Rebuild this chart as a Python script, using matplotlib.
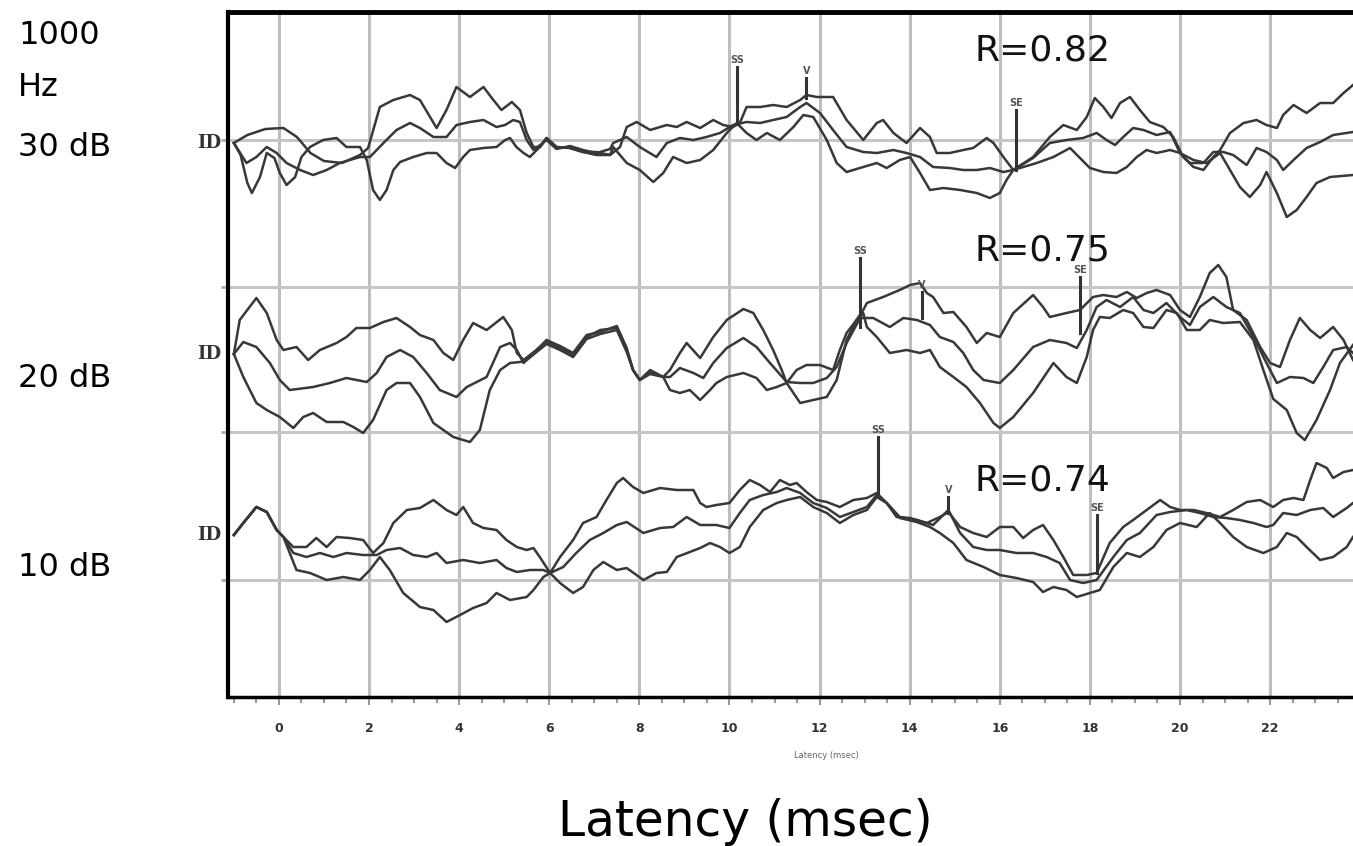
import numpy as np
import matplotlib
matplotlib.use("Agg")
import matplotlib.pyplot as plt
from matplotlib.ticker import MultipleLocator

# ABR traces, 3 repeats per level: (latency ms, amplitude offset from level baseline)
db30_a = [(-1, 0), (-0.7, 8), (-0.3, 14), (0.1, 15), (0.4, 6), (0.7, -10), (1.0, -18), (1.4, -20), (1.8, -12),
          (1.98, -5), (2.24, 36), (2.54, 43), (2.91, 48), (3.13, 43), (3.5, 15), (3.72, 33), (3.94, 56), (4.24, 46),
          (4.54, 56), (4.76, 43), (4.94, 33), (5.17, 41), (5.35, 33), (5.5, 10), (5.65, -4), (5.8, -4), (5.94, 5),
          (6.16, -4), (6.46, -5), (6.75, -9), (7.05, -9), (7.35, -12), (7.57, -4), (7.72, 16), (7.94, 21), (8.24, 13),
          (8.61, 18), (8.83, 16), (9.05, 21), (9.35, 15), (9.64, 23), (9.86, 18), (10.08, 16), (10.23, 20),
          (10.38, 36), (10.68, 36), (10.97, 38), (11.27, 36), (11.57, 43), (11.71, 48), (11.94, 46), (12.3, 46),
          (12.6, 23), (12.97, 3), (13.27, 20), (13.41, 23), (13.64, 10), (13.93, 0), (14.23, 15), (14.45, 6),
          (14.6, -10), (14.89, -10), (15.19, -7), (15.41, -5), (15.71, 5), (15.86, 0), (16.08, -14), (16.3, -27),
          (16.74, -14), (17.11, 6), (17.41, 18), (17.71, 13), (17.93, 26), (18.11, 45), (18.3, 36), (18.48, 25),
          (18.67, 40), (18.89, 46), (19.11, 33), (19.33, 21), (19.63, 16), (19.85, 6), (20.07, -14), (20.3, -24),
          (20.52, -27), (20.74, -14), (20.89, -7), (21.11, 10), (21.41, 20), (21.7, 23), (21.92, 18), (22.15, 15),
          (22.29, 28), (22.52, 38), (22.81, 30), (23.11, 40), (23.4, 40), (23.63, 50), (23.84, 58)]
db30_b = [(-1, 0), (-0.72, -20), (-0.5, -14), (-0.27, -4), (-0.05, -10), (0.17, -20), (0.47, -27), (0.76, -32),
          (1.06, -27), (1.35, -20), (1.8, -14), (2.02, -14), (2.32, 0), (2.61, 13), (2.91, 20), (3.13, 15),
          (3.43, 6), (3.72, 6), (3.94, 18), (4.24, 21), (4.54, 23), (4.83, 16), (5.02, 18), (5.2, 23), (5.35, 21),
          (5.5, 3), (5.65, -7), (5.8, -2), (5.94, 3), (6.16, -6), (6.46, -3), (6.75, -7), (7.05, -10), (7.35, -6),
          (7.42, 0), (7.72, 6), (8.01, -4), (8.38, -14), (8.61, 0), (8.9, 5), (9.2, 3), (9.49, 6), (9.79, 10),
          (10.08, 18), (10.38, 21), (10.68, 20), (10.97, 23), (11.27, 26), (11.57, 36), (11.71, 40), (12.01, 30),
          (12.3, 13), (12.6, -4), (12.97, -9), (13.27, -10), (13.64, -7), (13.93, -10), (14.23, -14), (14.52, -24),
          (14.89, -25), (15.19, -27), (15.49, -27), (15.78, -25), (16.08, -29), (16.3, -27), (16.74, -15),
          (17.11, 0), (17.48, 3), (17.85, 5), (18.15, 10), (18.37, 3), (18.56, -2), (18.74, 6), (18.96, 15),
          (19.19, 13), (19.48, 8), (19.78, 11), (20.0, -10), (20.22, -20), (20.52, -20), (20.74, -9), (20.96, -9),
          (21.18, -12), (21.48, -22), (21.7, -5), (21.92, -9), (22.15, -17), (22.29, -27), (22.52, -17),
          (22.81, -5), (23.11, 1), (23.4, 8), (23.84, 11)]
db30_c = [(-1, 0), (-0.85, -12), (-0.7, -40), (-0.6, -50), (-0.42, -34), (-0.27, -10), (-0.1, -15), (0.02, -30),
          (0.17, -42), (0.36, -34), (0.5, -14), (0.69, -4), (0.98, 3), (1.28, 5), (1.5, -4), (1.8, -4), (1.95, -17),
          (2.09, -47), (2.24, -57), (2.39, -47), (2.54, -27), (2.69, -19), (2.98, -14), (3.28, -10), (3.5, -10),
          (3.72, -20), (3.91, -25), (4.09, -14), (4.24, -7), (4.54, -5), (4.83, -4), (5.02, 3), (5.13, 5),
          (5.27, -4), (5.43, -10), (5.57, -14), (5.79, -4), (5.94, 5), (6.16, -4), (6.46, -5), (6.75, -9),
          (7.05, -12), (7.35, -12), (7.42, -4), (7.72, -20), (8.01, -27), (8.31, -39), (8.53, -30), (8.75, -14),
          (9.05, -20), (9.35, -17), (9.64, -7), (9.94, 10), (10.16, 20), (10.38, 10), (10.6, 3), (10.83, 10),
          (11.12, 3), (11.42, 16), (11.64, 28), (11.86, 26), (12.16, 3), (12.38, -20), (12.6, -29), (12.97, -24),
          (13.27, -20), (13.49, -25), (13.78, -17), (14.01, -14), (14.23, -30), (14.45, -47), (14.75, -45),
          (15.12, -47), (15.49, -50), (15.78, -55), (16.0, -50), (16.15, -37), (16.3, -27), (16.82, -20),
          (17.19, -14), (17.56, -5), (17.78, -15), (18.0, -25), (18.3, -29), (18.59, -30), (18.82, -24),
          (19.04, -14), (19.26, -7), (19.48, -10), (19.78, -7), (20.0, -10), (20.3, -17), (20.59, -20),
          (20.89, -10), (21.11, -27), (21.33, -44), (21.55, -54), (21.78, -42), (21.92, -29), (22.15, -50),
          (22.37, -74), (22.59, -67), (22.81, -54), (23.03, -40), (23.33, -34), (23.84, -32)]

db20_a = [(-1, 0), (-0.87, 34), (-0.5, 56), (-0.27, 41), (-0.05, 14), (0.1, 4), (0.39, 7), (0.65, -6), (0.91, 4),
          (1.28, 11), (1.5, 17), (1.72, 26), (2.02, 26), (2.32, 32), (2.61, 36), (2.91, 27), (3.13, 19), (3.43, 14),
          (3.65, 1), (3.87, -6), (4.09, 14), (4.31, 31), (4.61, 24), (4.98, 37), (5.17, 24), (5.28, 1), (5.43, -6),
          (5.94, 12), (6.24, 6), (6.53, -1), (6.83, 17), (7.13, 24), (7.5, 26), (7.72, 4), (7.86, -16), (8.01, -26),
          (8.24, -16), (8.53, -23), (8.68, -16), (8.9, 1), (9.05, 11), (9.35, -4), (9.64, 17), (9.94, 34),
          (10.31, 45), (10.53, 41), (10.75, 24), (10.97, 4), (11.16, -16), (11.27, -29), (11.49, -16), (11.71, -11),
          (12.01, -11), (12.3, -16), (12.45, 4), (12.6, 21), (12.82, 34), (12.97, 44), (13.05, 51), (13.41, 57),
          (13.78, 64), (14.01, 69), (14.23, 71), (14.38, 61), (14.52, 57), (14.75, 41), (14.97, 42), (15.26, 27),
          (15.49, 11), (15.71, 21), (16.0, 17), (16.3, 41), (16.74, 59), (16.96, 47), (17.11, 37), (17.48, 41),
          (17.78, 44), (18.07, 57), (18.3, 59), (18.59, 57), (18.82, 62), (19.04, 56), (19.26, 61), (19.48, 64),
          (19.78, 59), (20.0, 44), (20.22, 37), (20.44, 57), (20.66, 81), (20.85, 89), (21.03, 77), (21.18, 44),
          (21.48, 34), (21.78, 7), (22.0, -9), (22.22, -13), (22.44, 14), (22.66, 36), (22.89, 24), (23.11, 16),
          (23.4, 27), (23.63, 14), (23.84, -6)]
db20_b = [(-1, 0), (-0.79, 12), (-0.5, 7), (-0.2, -9), (0.02, -26), (0.24, -36), (0.76, -33), (1.13, -29),
          (1.5, -24), (1.95, -28), (2.17, -19), (2.39, -3), (2.69, 4), (2.98, -3), (3.28, -19), (3.57, -36),
          (3.94, -43), (4.17, -33), (4.61, -23), (4.91, 7), (5.13, 11), (5.28, 4), (5.43, -9), (5.5, -6), (5.94, 10),
          (6.24, 4), (6.53, -3), (6.83, 15), (7.13, 20), (7.5, 24), (7.72, 2), (7.86, -16), (8.01, -26), (8.24, -18),
          (8.53, -23), (8.68, -23), (8.9, -14), (9.2, -19), (9.42, -24), (9.64, -9), (9.94, 6), (10.31, 16),
          (10.6, 7), (10.9, -9), (11.27, -28), (11.57, -29), (11.86, -29), (12.16, -24), (12.38, -13), (12.6, 11),
          (12.9, 36), (13.19, 36), (13.56, 27), (13.86, 36), (14.16, 34), (14.45, 29), (14.67, 17), (14.97, 12),
          (15.19, 1), (15.41, -16), (15.64, -26), (16.0, -29), (16.3, -16), (16.74, 7), (17.11, 14), (17.48, 11),
          (17.71, 6), (17.93, 24), (18.15, 47), (18.37, 54), (18.67, 47), (18.96, 57), (19.19, 44), (19.41, 41),
          (19.7, 51), (20.0, 37), (20.22, 29), (20.44, 47), (20.74, 57), (21.03, 47), (21.33, 41), (21.63, 17),
          (21.92, -9), (22.15, -29), (22.44, -23), (22.74, -24), (22.96, -29), (23.18, -13), (23.4, 4), (23.7, 7),
          (23.84, 1)]
db20_c = [(-1, 0), (-0.79, -23), (-0.5, -49), (-0.27, -56), (0.02, -63), (0.32, -74), (0.54, -63), (0.76, -59),
          (1.06, -68), (1.43, -68), (1.65, -73), (1.87, -79), (2.09, -66), (2.39, -36), (2.61, -29), (2.91, -29),
          (3.13, -43), (3.43, -69), (3.87, -83), (4.24, -88), (4.46, -76), (4.68, -36), (4.91, -16), (5.13, -9),
          (5.35, -8), (5.5, -6), (5.94, 14), (6.24, 8), (6.53, 1), (6.83, 19), (7.13, 22), (7.5, 28), (7.72, 6),
          (7.86, -16), (8.01, -26), (8.24, -20), (8.53, -23), (8.68, -36), (8.9, -39), (9.12, -36), (9.35, -46),
          (9.57, -36), (9.71, -29), (9.94, -23), (10.31, -19), (10.6, -24), (10.83, -36), (11.05, -33),
          (11.27, -29), (11.57, -49), (11.86, -46), (12.16, -43), (12.38, -26), (12.6, 14), (12.82, 34),
          (12.97, 41), (13.05, 27), (13.27, 17), (13.56, 1), (13.93, 4), (14.23, 1), (14.45, 4), (14.67, -13),
          (14.97, -23), (15.26, -33), (15.56, -49), (15.86, -69), (16.0, -74), (16.3, -63), (16.74, -39),
          (17.19, -9), (17.48, -23), (17.71, -29), (17.93, -3), (18.07, 24), (18.22, 37), (18.44, 36), (18.74, 44),
          (18.96, 41), (19.19, 27), (19.41, 26), (19.7, 44), (19.93, 41), (20.15, 24), (20.44, 24), (20.66, 34),
          (20.96, 31), (21.33, 32), (21.63, 14), (21.85, -16), (22.07, -45), (22.37, -56), (22.59, -79),
          (22.77, -86), (23.03, -66), (23.33, -36), (23.55, -9), (23.84, 9)]

db10_a = [(-1, 0), (-0.79, 12), (-0.5, 28), (-0.27, 23), (-0.05, 5), (0.1, -2), (0.32, -12), (0.61, -12),
          (0.83, -3), (1.06, -12), (1.28, -2), (1.57, -3), (1.87, -5), (2.09, -18), (2.32, -8), (2.54, 12),
          (2.84, 25), (3.13, 27), (3.43, 35), (3.72, 25), (3.94, 20), (4.09, 28), (4.31, 12), (4.54, 7), (4.83, 5),
          (5.05, -5), (5.28, -12), (5.5, -15), (5.65, -13), (5.79, -22), (6.02, -38), (6.24, -22), (6.53, -5),
          (6.75, 12), (7.05, 18), (7.27, 35), (7.5, 52), (7.64, 57), (7.86, 48), (8.09, 42), (8.46, 47), (8.83, 45),
          (9.2, 45), (9.35, 32), (9.49, 28), (9.71, 30), (10.0, 32), (10.23, 45), (10.45, 55), (10.68, 50),
          (10.9, 43), (11.12, 55), (11.34, 50), (11.49, 52), (11.71, 43), (11.94, 35), (12.16, 33), (12.45, 28),
          (12.75, 35), (13.05, 37), (13.27, 42), (13.49, 32), (13.71, 18), (14.01, 17), (14.38, 12), (14.67, 18),
          (14.86, 23), (15.12, 8), (15.41, 2), (15.71, -2), (16.0, 8), (16.3, 8), (16.52, -3), (16.74, 5),
          (16.96, 10), (17.19, -5), (17.41, -22), (17.63, -40), (17.93, -40), (18.15, -38), (18.44, -8), (18.74, 8),
          (18.96, 15), (19.26, 25), (19.56, 35), (19.78, 28), (20.0, 25), (20.3, 25), (20.59, 22), (20.89, 18),
          (21.18, 25), (21.48, 33), (21.78, 35), (22.07, 28), (22.29, 35), (22.52, 37), (22.74, 35), (22.89, 55),
          (23.03, 72), (23.26, 67), (23.4, 57), (23.63, 63), (23.84, 65)]
db10_b = [(-1, 0), (-0.79, 12), (-0.5, 28), (-0.27, 23), (-0.05, 5), (0.1, -2), (0.32, -18), (0.61, -22),
          (0.91, -18), (1.21, -22), (1.5, -18), (1.87, -20), (2.17, -20), (2.39, -15), (2.69, -13), (2.98, -20),
          (3.28, -22), (3.5, -18), (3.72, -28), (4.09, -25), (4.46, -28), (4.83, -25), (5.05, -33), (5.28, -37),
          (5.57, -35), (5.87, -35), (6.02, -38), (6.31, -32), (6.6, -18), (6.9, -5), (7.2, 2), (7.5, 10),
          (7.72, 13), (8.09, 2), (8.46, 7), (8.75, 8), (9.05, 18), (9.35, 10), (9.71, 10), (10.0, 7), (10.23, 22),
          (10.45, 35), (10.75, 40), (11.05, 43), (11.27, 47), (11.57, 42), (11.86, 32), (12.16, 27), (12.45, 18),
          (12.75, 23), (13.05, 28), (13.27, 40), (13.49, 32), (13.78, 18), (14.16, 15), (14.52, 10), (14.86, 25),
          (15.12, 2), (15.41, -12), (15.71, -15), (16.0, -15), (16.37, -18), (16.74, -18), (17.04, -22),
          (17.33, -28), (17.56, -45), (17.85, -48), (18.15, -45), (18.52, -22), (18.82, -5), (19.11, 2),
          (19.48, 20), (19.78, 23), (20.15, 25), (20.44, 22), (20.74, 18), (21.03, 17), (21.33, 15), (21.63, 12),
          (21.92, 8), (22.07, 10), (22.29, 22), (22.59, 20), (22.89, 25), (23.18, 27), (23.4, 18), (23.7, 27),
          (23.84, 32)]
db10_c = [(-1, 0), (-0.79, 12), (-0.5, 28), (-0.27, 23), (-0.05, 5), (0.1, -2), (0.24, -18), (0.39, -35),
          (0.69, -38), (1.06, -45), (1.43, -42), (1.8, -45), (2.02, -35), (2.24, -22), (2.46, -35), (2.76, -58),
          (3.13, -72), (3.43, -75), (3.72, -87), (4.02, -80), (4.31, -73), (4.61, -68), (4.83, -58), (5.13, -65),
          (5.5, -62), (5.65, -55), (5.87, -42), (6.02, -38), (6.24, -48), (6.53, -58), (6.75, -52), (6.98, -35),
          (7.2, -27), (7.5, -35), (7.72, -33), (8.09, -45), (8.38, -38), (8.61, -37), (8.83, -22), (9.12, -17),
          (9.35, -13), (9.57, -8), (9.79, -12), (10.0, -18), (10.23, -12), (10.45, 8), (10.75, 25), (11.05, 32),
          (11.27, 35), (11.57, 38), (11.86, 28), (12.16, 22), (12.45, 12), (12.75, 20), (13.05, 25), (13.27, 38),
          (13.49, 32), (13.78, 17), (14.16, 13), (14.45, 8), (14.67, 2), (14.97, -8), (15.26, -25), (15.64, -32),
          (16.0, -40), (16.37, -43), (16.74, -47), (16.96, -57), (17.19, -52), (17.48, -55), (17.71, -62),
          (18.0, -58), (18.22, -55), (18.52, -32), (18.82, -18), (19.11, -22), (19.41, -12), (19.7, 5), (20.0, 12),
          (20.37, 8), (20.66, 22), (20.89, 12), (21.18, -2), (21.48, -12), (21.85, -18), (22.15, -12), (22.37, 2),
          (22.59, -2), (22.81, -12), (23.11, -25), (23.4, -22), (23.7, -12), (23.84, -2)]

levels = ["30 dB", "20 dB", "10 dB"]
r_values = ["R=0.82", "R=0.75", "R=0.74"]
traces = [[db30_a, db30_b, db30_c], [db20_a, db20_b, db20_c], [db10_a, db10_b, db10_c]]

# wave markers per level: (label, latency, tip offset, top offset)
markers = [
    [("SS", 10.17, 20, 76), ("V", 11.71, 45, 65), ("SE", 16.37, -27, 33)],
    [("SS", 12.9, 27, 96), ("V", 14.27, 36, 62), ("SE", 17.78, 21, 77)],
    [("SS", 13.3, 40, 98), ("V", 14.86, 22, 38), ("SE", 18.15, -38, 20)],
]

baselines = [554, 343, 162]
grid_y = [117, 265, 410, 557]
trace_color = "#383838"

fig = plt.figure(figsize=(13.53, 8.46), dpi=100)
ax = fig.add_axes([228 / 1353, 149 / 846, 1 - 228 / 1353, 685 / 846])

for base, group in zip(baselines, traces):
    for tr in group:
        t, v = np.array(tr).T
        ax.plot(t, v + base, color=trace_color, lw=1.8, solid_joinstyle="round")

for base, group in zip(baselines, markers):
    for lab, t, lo, hi in group:
        ax.plot([t, t], [base + lo, base + hi], color="#333333", lw=2.2)
        ax.text(t, base + hi + 2, lab, ha="center", va="bottom", fontsize=7,
                fontweight="bold", color="#555555")

r_y = [647, 447, 217]
for txt, y in zip(r_values, r_y):
    ax.text(15.45, y, txt, fontsize=26, va="center", ha="left", color="#111111")

ax.set_xlim(-1.13, 23.84)
ax.set_ylim(0, 685)
ax.set_xticks(range(0, 23, 2))
ax.xaxis.set_minor_locator(MultipleLocator(0.5))
ax.set_yticks(grid_y)
ax.set_yticklabels([])
ax.grid(axis="x", color="#bdbdbd", lw=2.2)
ax.grid(axis="y", color="#c6c6c6", lw=2.2)
ax.set_axisbelow(True)

ax.tick_params(axis="x", which="major", direction="out", length=6, width=1.5, color="#999999",
               labelsize=9, labelcolor="#333333", pad=12)
ax.tick_params(axis="x", which="minor", direction="out", length=4, width=1.5, color="#999999")
ax.tick_params(axis="y", direction="out", length=5, width=2, color="#aaaaaa")
for lab in ax.get_xticklabels():
    lab.set_fontweight("bold")

for side in ["left", "top", "bottom"]:
    ax.spines[side].set_color("black")
ax.spines["left"].set_linewidth(3)
ax.spines["top"].set_linewidth(3.5)
ax.spines["bottom"].set_linewidth(2.5)
ax.spines["right"].set_visible(False)

# channel markers left of the traces
for base in baselines:
    ax.text(-1.55, base, "ID", ha="center", va="center", fontsize=13, fontweight="bold",
            family="DejaVu Serif", color="#333333", clip_on=False)

# level labels on the left
fig.text(18 / 1353, 1 - 36 / 846, "1000", fontsize=23, va="center", ha="left")
fig.text(18 / 1353, 1 - 88 / 846, "Hz", fontsize=23, va="center", ha="left")
for lvl, py in zip(levels, [147, 378, 568]):
    fig.text(18 / 1353, 1 - py / 846, lvl, fontsize=23, va="center", ha="left")

fig.text(826 / 1353, 1 - 755 / 846, "Latency (msec)", fontsize=6, ha="center", va="center", color="#666666")
fig.text(745 / 1353, 1 - 822 / 846, "Latency (msec)", fontsize=35, ha="center", va="center")

fig.savefig("out.png", dpi=100)
